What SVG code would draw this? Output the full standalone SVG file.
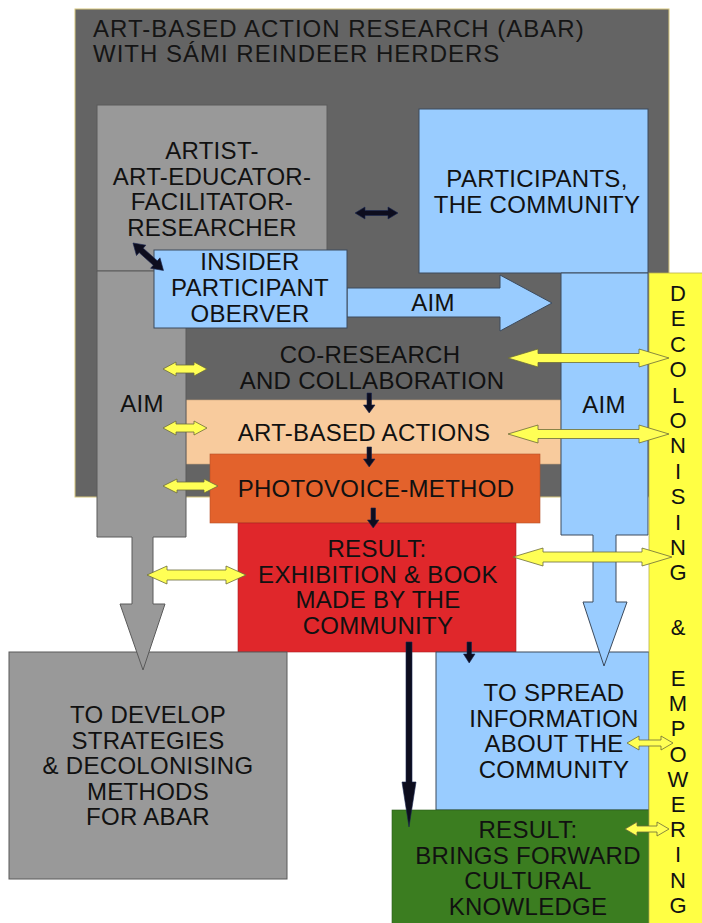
<svg xmlns="http://www.w3.org/2000/svg" width="702" height="923" viewBox="0 0 702 923">
<style>
text{font-family:"Liberation Sans",Arial,sans-serif;font-size:24px;fill:#111;text-anchor:middle;letter-spacing:0.3px}
.title{text-anchor:start;font-size:24px;letter-spacing:1px;fill:#151515}
.v{font-size:22px;letter-spacing:0}
.gray{fill:#999;stroke:#5a5a5a;stroke-width:1}
.blue{fill:#99ccff;stroke:#3c4a5c;stroke-width:1}
.yarr{fill:#ffff55;stroke:#6b6b3a;stroke-width:0.8}
.barr{fill:#0d0d1e;stroke:#1a2650;stroke-width:0.6}
</style>
<rect width="702" height="923" fill="#fff"/>
<g id="outer">
<rect x="75" y="9" width="594" height="488" fill="#646464" stroke="#d6c67c" stroke-width="1"/>
<text class="title" x="93" y="37">ART-BASED ACTION RESEARCH (ABAR)</text>
<text class="title" x="93" y="62">WITH SÁMI REINDEER HERDERS</text>
</g>
<g id="artist">
<rect class="gray" x="97" y="105" width="230" height="166"/>
<text x="212" y="159">ARTIST-</text>
<text x="212" y="184.5">ART-EDUCATOR-</text>
<text x="212" y="210">FACILITATOR-</text>
<text x="212" y="235.5">RESEARCHER</text>
</g>
<g id="participants">
<rect class="blue" x="419" y="109" width="229" height="164"/>
<text x="537" y="187">PARTICIPANTS,</text>
<text x="537" y="213">THE COMMUNITY</text>
</g>
<g id="coresearch">
<text x="370" y="363">CO-RESEARCH</text>
<text x="372" y="389">AND COLLABORATION</text>
</g>
<g id="artbased">
<rect x="186" y="400" width="375" height="64" fill="#f8cb9d" stroke="#c9a57e" stroke-width="0.6"/>
<text x="364" y="441">ART-BASED ACTIONS</text>
</g>
<g id="photovoice">
<rect x="210" y="454" width="330" height="69" fill="#e3622c" stroke="#b5502a" stroke-width="0.6"/>
<text x="376" y="497">PHOTOVOICE-METHOD</text>
</g>
<g id="result1">
<rect x="238" y="523" width="278" height="129" fill="#e0272b" stroke="#a82024" stroke-width="0.6"/>
<text x="377" y="557">RESULT:</text>
<text x="378" y="582.5">EXHIBITION &amp; BOOK</text>
<text x="378" y="608">MADE BY THE</text>
<text x="378" y="633.5">COMMUNITY</text>
</g>
<g id="develop">
<rect class="gray" x="9" y="652" width="278" height="227"/>
<text x="148" y="723">TO DEVELOP</text>
<text x="148" y="748.5">STRATEGIES</text>
<text x="148" y="774">&amp; DECOLONISING</text>
<text x="148" y="799.5">METHODS</text>
<text x="148" y="825">FOR ABAR</text>
</g>
<g id="spread">
<rect class="blue" x="436" y="652" width="213" height="158"/>
<text x="554" y="701">TO SPREAD</text>
<text x="554" y="726.5">INFORMATION</text>
<text x="554" y="752">ABOUT THE</text>
<text x="554" y="777.5">COMMUNITY</text>
</g>
<g id="result2">
<rect x="392" y="810" width="257" height="114" fill="#3b7d20" stroke="#2a5a18" stroke-width="0.6"/>
<text x="528" y="838">RESULT:</text>
<text x="528" y="863.5">BRINGS FORWARD</text>
<text x="528" y="889">CULTURAL</text>
<text x="528" y="914.5">KNOWLEDGE</text>
</g>
<g id="aim-left">
<path class="gray" d="M97,271 H186 V537 H153 V604 H165 L143,670 L120,604 H132 V537 H97 Z"/>
<text x="142" y="412">AIM</text>
</g>
<g id="aim-right">
<path class="blue" d="M561,273 H648 V535 H616 V602 H627 L604,666 L583,602 H593 V535 H561 Z"/>
<text x="604" y="413">AIM</text>
</g>
<g id="band">
<rect x="649" y="273" width="54" height="651" fill="#ffff44" stroke="#b8b050" stroke-width="0.8"/>
<text class="v" x="678" y="301">D</text>
<text class="v" x="678" y="326.4">E</text>
<text class="v" x="678" y="351.8">C</text>
<text class="v" x="678" y="377.2">O</text>
<text class="v" x="678" y="402.6">L</text>
<text class="v" x="678" y="428">O</text>
<text class="v" x="678" y="453.4">N</text>
<text class="v" x="678" y="478.8">I</text>
<text class="v" x="678" y="504.2">S</text>
<text class="v" x="678" y="529.6">I</text>
<text class="v" x="678" y="555">N</text>
<text class="v" x="678" y="580.4">G</text>
<text class="v" x="678" y="635">&amp;</text>
<text class="v" x="678" y="686">E</text>
<text class="v" x="678" y="711.2">M</text>
<text class="v" x="678" y="736.4">P</text>
<text class="v" x="678" y="761.6">O</text>
<text class="v" x="678" y="786.8">W</text>
<text class="v" x="678" y="812">E</text>
<text class="v" x="678" y="837.2">R</text>
<text class="v" x="678" y="862.4">I</text>
<text class="v" x="678" y="887.6">N</text>
<text class="v" x="678" y="912.8">G</text>
</g>
<g id="aim-arrow">
<path class="blue" d="M347,288 H500 V275 L552,303 L500,331 V317 H347 Z"/>
<text x="433" y="311">AIM</text>
</g>
<g id="insider">
<rect class="blue" x="154" y="250" width="193" height="78"/>
<text x="250" y="270">INSIDER</text>
<text x="250" y="296">PARTICIPANT</text>
<text x="250" y="322">OBERVER</text>
</g>
<g id="connectors">
<path class="yarr" d="M163,369 L176,362 V365 H194 V362 L207,369 L194,376 V373 H176 V376 Z"/>
<path class="yarr" d="M163,428 L176,421 V424 H194 V421 L207,428 L194,435 V432 H176 V435 Z"/>
<path class="yarr" d="M163,486 L177,479 V482 H204 V479 L218,486 L204,493 V490 H177 V493 Z"/>
<path class="yarr" d="M147,575 L167,566 V570 H226 V566 L246,575 L226,584 V580 H167 V584 Z"/>
<path class="yarr" d="M508,358 L538,349 V353.5 H639 V349 L669,358 L639,367 V362.5 H538 V367 Z"/>
<path class="yarr" d="M508,434 L538,425 V429.5 H639 V425 L669,434 L639,443 V438.5 H538 V443 Z"/>
<path class="yarr" d="M513,557 L543,548 V552 H642 V548 L672,557 L642,566 V562 H543 V566 Z"/>
<path class="yarr" d="M627,743 L639,736 V740 H661 V736 L673,743 L661,750 V746 H639 V750 Z"/>
<path class="yarr" d="M625,829 L637,822 V826 H657 V822 L669,829 L657,836 V832 H637 V836 Z"/>
<path class="barr" d="M355,213 L365,207 V210.5 H388 V207 L398,213 L388,219 V215.5 H365 V219 Z"/>
<path class="barr" transform="translate(133,243) rotate(42)" d="M0,0 L11,-7 V-3 H30 V-7 L41,0 L30,7 V3 H11 V7 Z"/>
<path class="barr" d="M367,393 H371.5 V405 H375 L369.2,413 L363.5,405 H367 Z"/>
<path class="barr" d="M367,447 H371.5 V459 H375 L369.2,467 L363.5,459 H367 Z"/>
<path class="barr" d="M371,508 H375.5 V520 H379 L373.2,528 L367.5,520 H371 Z"/>
<path class="barr" d="M467,642 H471.5 V654 H475 L469.2,663 L463.5,654 H467 Z"/>
<path class="barr" d="M406,642 H412 V782 H416 L409,827 L402,782 H406 Z"/>
</g>
</svg>
